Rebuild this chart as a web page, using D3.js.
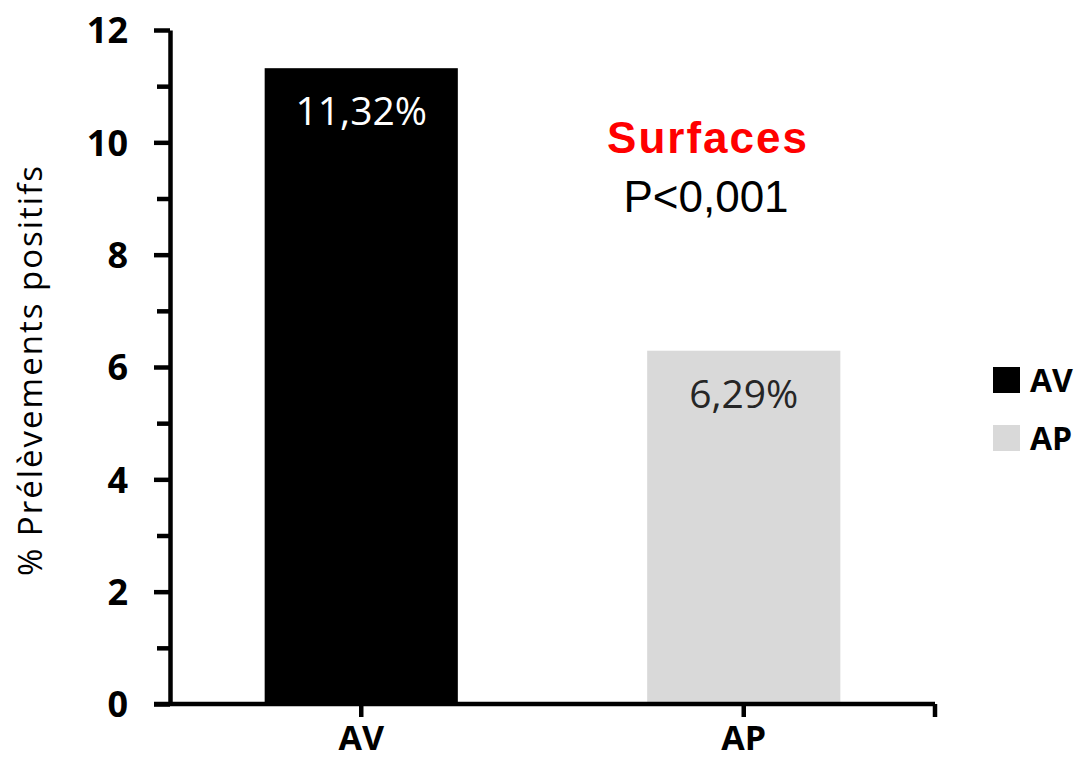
<!doctype html>
<html lang="fr">
<head>
<meta charset="utf-8">
<script src="https://cdnjs.cloudflare.com/ajax/libs/d3/7.8.5/d3.min.js"></script>
<style>
  body { margin: 0; background: #fff; overflow: hidden; }
  svg { display: block; }
  .axis path, .axis line { stroke: #000; stroke-width: 4.5; }
  .axis text { font-family: 'Open Sans', sans-serif; font-weight: 700; fill: #000; }
</style>
</head>
<body>
<script>
// data
const categories = ["AV", "AP"];
const values = [11.32, 6.29];
const valueLabels = ["11,32%", "6,29%"];
const barColors = ["#000000", "#d9d9d9"];
const labelColors = ["#ffffff", "#262626"];
const yTicks = [0, 2, 4, 6, 8, 10, 12];
const yMinorTicks = [1, 3, 5, 7, 9, 11];

const w = 1080, h = 760;
const x0 = 170, x1 = 935, yBottom = 704, yTop = 30;

const svg = d3.select("body").append("svg")
  .attr("width", w)
  .attr("height", h);

const xScale = d3.scaleBand()
  .domain(categories)
  .range([x0, x1])
  .paddingInner(0.495)
  .paddingOuter(0.2475);

const yScale = d3.scaleLinear()
  .domain([0, 12])
  .range([yBottom, yTop]);

// bars
svg.selectAll("rect.bar")
  .data(values)
  .enter()
  .append("rect")
  .attr("class", "bar")
  .attr("x", (d, i) => xScale(categories[i]))
  .attr("y", d => yScale(d))
  .attr("width", xScale.bandwidth())
  .attr("height", d => yBottom - yScale(d))
  .attr("fill", (d, i) => barColors[i]);

// value labels inside bars
svg.selectAll("text.val")
  .data(values)
  .enter()
  .append("text")
  .attr("class", "val")
  .attr("x", (d, i) => xScale(categories[i]) + xScale.bandwidth() / 2)
  .attr("y", d => yScale(d) + 57)
  .attr("text-anchor", "middle")
  .attr("font-family", "'Open Sans', sans-serif")
  .attr("font-size", 39)
  .attr("fill", (d, i) => labelColors[i])
  .text((d, i) => valueLabels[i]);

// minor ticks on y
svg.append("g")
  .attr("class", "axis")
  .attr("transform", "translate(" + x0 + ",0)")
  .call(d3.axisLeft(yScale).tickValues(yMinorTicks).tickSize(13).tickFormat(""))
  .call(g => g.select(".domain").remove());

// y axis
svg.append("g")
  .attr("class", "axis")
  .attr("transform", "translate(" + x0 + ",0)")
  .call(d3.axisLeft(yScale).tickValues(yTicks).tickSize(16).tickSizeOuter(0).tickPadding(26))
  .call(g => g.selectAll("text").attr("font-size", 36).attr("dy", "0.36em"));

// x axis
const xAxisG = svg.append("g")
  .attr("class", "axis")
  .attr("transform", "translate(0," + yBottom + ")");
xAxisG.append("line")
  .attr("x1", 154).attr("x2", x1)
  .attr("y1", 0).attr("y2", 0);
xAxisG.selectAll("line.tick")
  .data(categories)
  .enter()
  .append("line")
  .attr("x1", d => xScale(d) + xScale.bandwidth() / 2)
  .attr("x2", d => xScale(d) + xScale.bandwidth() / 2)
  .attr("y1", 0).attr("y2", 13);
xAxisG.append("line")
  .attr("x1", x1).attr("x2", x1)
  .attr("y1", 0).attr("y2", 13);
xAxisG.selectAll("text")
  .data(categories)
  .enter()
  .append("text")
  .attr("x", d => xScale(d) + xScale.bandwidth() / 2)
  .attr("y", 46)
  .attr("text-anchor", "middle")
  .attr("font-size", 34)
  .text(d => d);

// y axis title
svg.append("text")
  .attr("transform", "rotate(-90)")
  .attr("x", -370)
  .attr("y", 42)
  .attr("text-anchor", "middle")
  .attr("font-family", "'Open Sans', sans-serif")
  .attr("font-size", 33)
  .attr("letter-spacing", 2)
  .attr("fill", "#000")
  .text("% Prélèvements positifs");

// annotation
svg.append("text")
  .attr("x", 708)
  .attr("y", 153)
  .attr("text-anchor", "middle")
  .attr("font-family", "'Liberation Sans', Arial, sans-serif")
  .attr("font-weight", 700)
  .attr("font-size", 44)
  .attr("letter-spacing", 2)
  .attr("fill", "#ff0000")
  .text("Surfaces");

svg.append("text")
  .attr("x", 706)
  .attr("y", 212)
  .attr("text-anchor", "middle")
  .attr("font-family", "'Liberation Sans', Arial, sans-serif")
  .attr("font-size", 44)
  .attr("fill", "#000")
  .text("P<0,001");

// legend
const legend = svg.selectAll("g.legend")
  .data(categories)
  .enter()
  .append("g")
  .attr("class", "legend")
  .attr("transform", (d, i) => "translate(993," + (367 + i * 58) + ")");
legend.append("rect")
  .attr("width", 27)
  .attr("height", 26)
  .attr("fill", (d, i) => barColors[i]);
legend.append("text")
  .attr("x", 37)
  .attr("y", 13)
  .attr("dy", "0.36em")
  .attr("font-family", "'Open Sans', sans-serif")
  .attr("font-weight", 700)
  .attr("font-size", 32)
  .attr("fill", "#000")
  .text(d => d);
</script>
</body>
</html>
